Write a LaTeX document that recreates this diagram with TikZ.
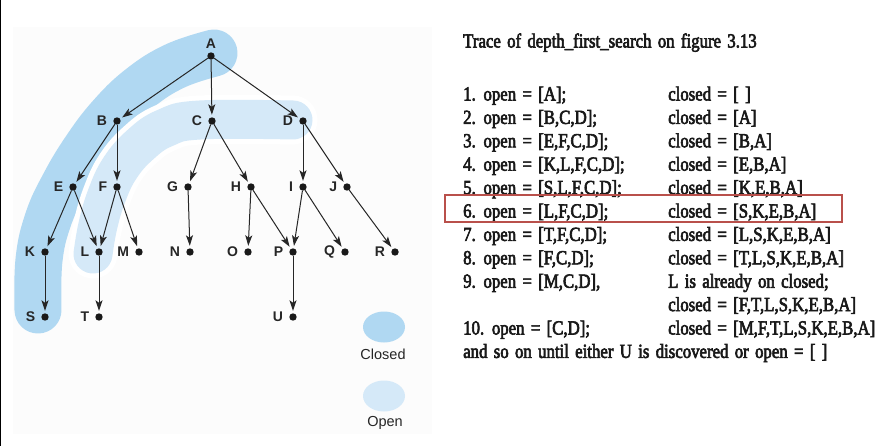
\documentclass[tikz,border=0pt]{standalone}
\usepackage{fontspec}
\setmainfont{Liberation Sans}
\newfontfamily\tracefont[FakeStretch=0.84,FakeBold=3]{Liberation Serif}
\newcommand\tracesetup{\tracefont\fontsize{20}{21}\selectfont\spaceskip 6.3pt\relax}
\usetikzlibrary{arrows.meta}
\definecolor{closedc}{RGB}{176,216,242}
\definecolor{openc}{RGB}{213,233,248}
\definecolor{boxred}{RGB}{185,80,75}
\definecolor{panelc}{RGB}{252,252,252}
\tikzset{
  dot/.style={circle,fill=black!90,inner sep=0pt,outer sep=0pt,minimum size=7.4pt},
  lbl/.style={font=\fontsize{14}{14}\selectfont\bfseries,text=black!85,inner sep=0pt},
  tedge/.style={-{Stealth[length=10.5pt,width=7pt,inset=2.5pt]},line width=1pt,draw=black!85,shorten >=2.5pt},
  band/.style={line cap=round,line join=round},
  trow/.style={anchor=base west,inner sep=0pt,font=\tracesetup,text=black!90},
  legtext/.style={font=\fontsize{14.5}{15}\selectfont,text=black!85,inner sep=0pt}
}
\begin{document}
\begin{tikzpicture}[x=1pt,y=-1pt]
\useasboundingbox (0,0) rectangle (890,446);
\fill[white] (0,0) rectangle (890,446);
\fill[panelc] (13,27) rectangle (432,434);
\draw[line width=1.4pt] (0.7,0) -- (0.7,446);
% closed band
\draw[band,closedc,line width=47pt] plot[smooth,tension=0.7] coordinates {(214,53) (175,66) (140,88) (110,117) (85,150) (64,185) (48,220) (39,260) (38,310)};
% open band
\draw[band,white,line width=49pt] plot[smooth,tension=0.7] coordinates {(293,120) (200,120) (165,128) (140,145) (120,168) (107,195) (98,225) (93,254)};
\draw[band,openc,line width=39pt] plot[smooth,tension=0.7] coordinates {(293,120) (200,120) (165,128) (140,145) (120,168) (107,195) (98,225) (93,254)};
% nodes
\node[dot,label={[lbl,label distance=4pt]above:A}] (A) at (211,56) {};
\node[dot,label={[lbl,label distance=6pt]left:B}] (B) at (117,121) {};
\node[dot,label={[lbl,label distance=6pt]left:C}] (C) at (212,121) {};
\node[dot,label={[lbl,label distance=6pt]left:D}] (D) at (303,121) {};
\node[dot,label={[lbl,label distance=6pt]left:E}] (E) at (73,187) {};
\node[dot,label={[lbl,label distance=6pt]left:F}] (F) at (117,187) {};
\node[dot,label={[lbl,label distance=6pt]left:G}] (G) at (188,187) {};
\node[dot,label={[lbl,label distance=6pt]left:H}] (H) at (251,187) {};
\node[dot,label={[lbl,label distance=6pt]left:I}] (I) at (303,187) {};
\node[dot,label={[lbl,label distance=6pt]left:J}] (J) at (347,187) {};
\node[dot,label={[lbl,label distance=6pt]left:K}] (K) at (45,252) {};
\node[dot,label={[lbl,label distance=6pt]left:L}] (L) at (99,252) {};
\node[dot,label={[lbl,label distance=6pt]left:M}] (M) at (139,252) {};
\node[dot,label={[lbl,label distance=6pt]left:N}] (N) at (190,252) {};
\node[dot,label={[lbl,label distance=6pt]left:O}] (O) at (248,252) {};
\node[dot,label={[lbl,label distance=6pt]left:P}] (P) at (293,252) {};
\node[dot,label={[lbl,label distance=6pt]left:Q}] (Q) at (345,252) {};
\node[dot,label={[lbl,label distance=6pt]left:R}] (R) at (395,252) {};
\node[dot,label={[lbl,label distance=6pt]left:S}] (S) at (45,317) {};
\node[dot,label={[lbl,label distance=6pt]left:T}] (T) at (99,317) {};
\node[dot,label={[lbl,label distance=6pt]left:U}] (U) at (293,317) {};
% edges
\foreach \p/\c in {A/B,A/C,A/D,B/E,B/F,C/G,C/H,D/I,D/J,E/K,E/L,F/L,F/M,G/N,H/O,H/P,I/P,I/Q,J/R,K/S,L/T,P/U}
  \draw[tedge] (\p) -- (\c);
% legend
\fill[closedc] (384,327) ellipse [x radius=21pt,y radius=15.5pt];
\node[legtext] (closedlbl) at (383,354) {Closed};
\fill[openc] (384,396) ellipse [x radius=21pt,y radius=15.5pt];
\node[legtext] (openlbl) at (385,423) {Open};
% trace text
\node[trow] (title) at (463,47.5) {Trace of depth\_first\_search on figure 3.13};
\node[trow] (o1) at (463,100.5) {1. open = [A];};
\node[trow] (c1) at (668,100.5) {closed = [ ]};
\node[trow] (o2) at (463,123.9) {2. open = [B,C,D];};
\node[trow] (c2) at (668,123.9) {closed = [A]};
\node[trow] (o3) at (463,147.3) {3. open = [E,F,C,D];};
\node[trow] (c3) at (668,147.3) {closed = [B,A]};
\node[trow] (o4) at (463,170.7) {4. open = [K,L,F,C,D];};
\node[trow] (c4) at (668,170.7) {closed = [E,B,A]};
\node[trow] (o5) at (463,194.1) {5. open = [S,L,F,C,D];};
\node[trow] (c5) at (668,194.1) {closed = [K,E,B,A]};
\node[trow] (o6) at (463,217.5) {6. open = [L,F,C,D];};
\node[trow] (c6) at (668,217.5) {closed = [S,K,E,B,A]};
\node[trow] (o7) at (463,240.9) {7. open = [T,F,C,D];};
\node[trow] (c7) at (668,240.9) {closed = [L,S,K,E,B,A]};
\node[trow] (o8) at (463,264.3) {8. open = [F,C,D];};
\node[trow] (c8) at (668,264.3) {closed = [T,L,S,K,E,B,A]};
\node[trow] (o9) at (463,287.7) {9. open = [M,C,D],};
\node[trow] (c9) at (668,287.7) {L is already on closed;};
\node[trow] (c9b) at (668,311.1) {closed = [F,T,L,S,K,E,B,A]};
\node[trow] (o10) at (463,334.5) {10. open = [C,D];};
\node[trow] (c10) at (668,334.5) {closed = [M,F,T,L,S,K,E,B,A]};
\node[trow] (last) at (463,357.9) {and so on until either U is discovered or open = [ ]};
% highlight box
\draw[boxred,line width=2.3pt] (445,195) rectangle (842,222);
\end{tikzpicture}
\end{document}
